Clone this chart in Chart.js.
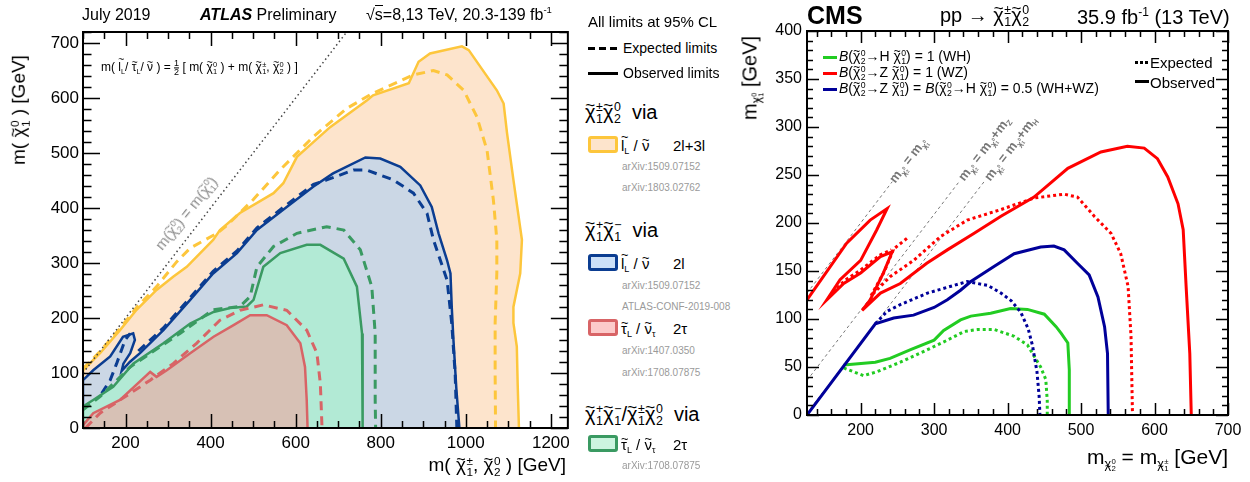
<!DOCTYPE html>
<html>
<head>
<meta charset="utf-8">
<script src="https://cdn.jsdelivr.net/npm/chart.js@4.4.1/dist/chart.umd.min.js"></script>
<style>
body{margin:0;width:1250px;height:482px;position:relative;background:#fff;font-family:"Liberation Sans",Arial,sans-serif;color:#000;overflow:hidden}
canvas{position:absolute;top:0}
.t{position:absolute;white-space:nowrap;line-height:1;transform:translateY(-50%)}
.ss{display:inline-flex;flex-direction:column;font-size:0.62em;line-height:0.95;vertical-align:middle;margin-left:0.04em;text-align:left}
sub{font-size:0.6em;vertical-align:-0.35em;line-height:0}
sup{font-size:0.6em;vertical-align:0.7em;line-height:0}
.tl{position:relative;display:inline-block}
.tl::after{content:"~";position:absolute;left:0;width:100%;text-align:center;top:-0.28em;font-size:0.85em;line-height:1}
.tl.hi::after{top:-0.56em}
.grey{color:#9a9a9a;font-size:10px}
.sw{position:absolute;box-sizing:border-box;width:30px;height:17px;border-radius:3px;border:3px solid}
.fr{display:inline-flex;flex-direction:column;font-size:0.75em;line-height:0.9;vertical-align:middle;text-align:center}
.fr span:first-child{border-bottom:1px solid #000}
</style>
</head>
<body>
<canvas id="atlas" width="575" height="482" style="left:0"></canvas>
<canvas id="cms" width="490" height="482" style="left:760px"></canvas>

<!-- ATLAS cabecera -->
<div class="t" style="left:82px;top:15px;font-size:16px">July 2019</div>
<div class="t" style="left:200px;top:15px;font-size:16px"><b><i>ATLAS</i></b> Preliminary</div>
<div class="t" style="left:366px;top:15px;font-size:16px">√<span style="border-top:1px solid #000">s</span>=8,13 TeV, 20.3-139 fb<sup>-1</sup></div>
<div class="t" style="left:101px;top:68px;font-size:12px">m( <span class="tl hi">l</span><sub>L</sub>/ <span class="tl">τ</span><sub>L</sub>/ <span class="tl">ν</span> ) = <span class="fr"><span>1</span><span>2</span></span> [ m( <span class="tl">χ</span><span class="ss"><span>0</span><span>1</span></span> ) + m( <span class="tl">χ</span><span class="ss"><span>±</span><span>1</span></span>,  <span class="tl">χ</span><span class="ss"><span>0</span><span>2</span></span> ) ]</div>
<div class="t" style="left:187px;top:214px;font-size:15px;color:#8a8a8a;transform:translate(-50%,-50%) rotate(-51deg)">m(<span class="tl">χ</span><span class="ss"><span>0</span><span>2</span></span>) = m(<span class="tl">χ</span><span class="ss"><span>0</span><span>1</span></span>)</div>
<div class="t" style="left:20px;top:110px;font-size:19px;transform:translate(-50%,-50%) rotate(-90deg)">m( <span class="tl">χ</span><span class="ss"><span>0</span><span>1</span></span> ) [GeV]</div>
<div class="t" style="right:684px;top:466px;font-size:19px">m( <span class="tl">χ</span><span class="ss"><span>±</span><span>1</span></span>, <span class="tl">χ</span><span class="ss"><span>0</span><span>2</span></span> ) [GeV]</div>

<!-- ATLAS leyenda -->
<div class="t" style="left:588px;top:21px;font-size:15px">All limits at 95% CL</div>
<div style="position:absolute;left:588px;top:47px;width:30px;height:3px;background:repeating-linear-gradient(90deg,#000 0 7px,transparent 7px 11px)"></div>
<div class="t" style="left:623px;top:48px;font-size:14px">Expected limits</div>
<div style="position:absolute;left:588px;top:72px;width:30px;height:3px;background:#000"></div>
<div class="t" style="left:623px;top:73px;font-size:14px">Observed limits</div>

<div class="t" style="left:585px;top:114px;font-size:20px"><span class="tl">χ</span><span class="ss"><span>±</span><span>1</span></span><span class="tl">χ</span><span class="ss"><span>0</span><span>2</span></span>&nbsp; via</div>
<div class="sw" style="left:588px;top:136px;background:#fde4cc;border-color:#fdc63c"></div>
<div class="t" style="left:621px;top:145px;font-size:15px"><span class="tl hi">l</span><sub>L</sub> / <span class="tl">ν</span></div>
<div class="t" style="left:673px;top:145px;font-size:15px">2l+3l</div>
<div class="t grey" style="left:622px;top:167px">arXiv:1509.07152</div>
<div class="t grey" style="left:622px;top:188px">arXiv:1803.02762</div>

<div class="t" style="left:585px;top:232px;font-size:20px"><span class="tl">χ</span><span class="ss"><span>+</span><span>1</span></span><span class="tl">χ</span><span class="ss"><span>−</span><span>1</span></span>&nbsp; via</div>
<div class="sw" style="left:588px;top:254px;background:#cce0f8;border-color:#0b3d91"></div>
<div class="t" style="left:621px;top:263px;font-size:15px"><span class="tl hi">l</span><sub>L</sub> / <span class="tl">ν</span></div>
<div class="t" style="left:673px;top:263px;font-size:15px">2l</div>
<div class="t grey" style="left:622px;top:286px">arXiv:1509.07152</div>
<div class="t grey" style="left:622px;top:307px">ATLAS-CONF-2019-008</div>
<div class="sw" style="left:588px;top:319px;background:#fccaca;border-color:#d86466"></div>
<div class="t" style="left:621px;top:328px;font-size:15px"><span class="tl">τ</span><sub>L</sub> / <span class="tl">ν</span><sub>τ</sub></div>
<div class="t" style="left:673px;top:328px;font-size:15px">2τ</div>
<div class="t grey" style="left:622px;top:351px">arXiv:1407.0350</div>
<div class="t grey" style="left:622px;top:373px">arXiv:1708.07875</div>

<div class="t" style="left:585px;top:416px;font-size:20px"><span class="tl">χ</span><span class="ss"><span>+</span><span>1</span></span><span class="tl">χ</span><span class="ss"><span>−</span><span>1</span></span>/<span class="tl">χ</span><span class="ss"><span>±</span><span>1</span></span><span class="tl">χ</span><span class="ss"><span>0</span><span>2</span></span>&nbsp; via</div>
<div class="sw" style="left:588px;top:435px;background:#ccf5e0;border-color:#3a9a62"></div>
<div class="t" style="left:621px;top:444px;font-size:15px"><span class="tl">τ</span><sub>L</sub> / <span class="tl">ν</span><sub>τ</sub></div>
<div class="t" style="left:673px;top:444px;font-size:15px">2τ</div>
<div class="t grey" style="left:622px;top:466px">arXiv:1708.07875</div>

<!-- CMS cabecera -->
<div class="t" style="left:807px;top:15px;font-size:25px;font-weight:bold">CMS</div>
<div class="t" style="left:940px;top:17px;font-size:20px">pp → <span class="tl">χ</span><span class="ss"><span>±</span><span>1</span></span><span class="tl">χ</span><span class="ss"><span>0</span><span>2</span></span></div>
<div class="t" style="left:1077px;top:17px;font-size:20px">35.9 fb<sup>-1</sup> (13 TeV)</div>

<!-- CMS leyenda -->
<div style="position:absolute;left:823px;top:56px;width:14px;height:3px;background:#22cc22"></div>
<div class="t" style="left:839px;top:57px;font-size:14px"><i>B</i>(<span class="tl">χ</span><span class="ss"><span>0</span><span>2</span></span>→H <span class="tl">χ</span><span class="ss"><span>0</span><span>1</span></span>) = 1 (WH)</div>
<div style="position:absolute;left:823px;top:72px;width:14px;height:3px;background:#ff0000"></div>
<div class="t" style="left:839px;top:73px;font-size:14px"><i>B</i>(<span class="tl">χ</span><span class="ss"><span>0</span><span>2</span></span>→Z <span class="tl">χ</span><span class="ss"><span>0</span><span>1</span></span>) = 1 (WZ)</div>
<div style="position:absolute;left:823px;top:88px;width:14px;height:3px;background:#000099"></div>
<div class="t" style="left:839px;top:89px;font-size:14px"><i>B</i>(<span class="tl">χ</span><span class="ss"><span>0</span><span>2</span></span>→Z <span class="tl">χ</span><span class="ss"><span>0</span><span>1</span></span>) = <i>B</i>(<span class="tl">χ</span><span class="ss"><span>0</span><span>2</span></span>→H <span class="tl">χ</span><span class="ss"><span>0</span><span>1</span></span>) = 0.5 (WH+WZ)</div>
<div style="position:absolute;left:1135px;top:61px;width:14px;height:3px;background:repeating-linear-gradient(90deg,#000 0 3px,transparent 3px 5px)"></div>
<div class="t" style="left:1150px;top:62px;font-size:15px">Expected</div>
<div style="position:absolute;left:1135px;top:80px;width:14px;height:3px;background:#000"></div>
<div class="t" style="left:1150px;top:82px;font-size:15px">Observed</div>

<div class="t" style="left:752px;top:78px;font-size:20px;transform:translate(-50%,-50%) rotate(-90deg)">m<sub><span class="tl">χ</span><span class="ss"><span>0</span><span>1</span></span></sub> [GeV]</div>
<div class="t" style="right:22px;top:459px;font-size:21px">m<sub><span class="tl">χ</span><span class="ss"><span>0</span><span>2</span></span></sub> = m<sub><span class="tl">χ</span><span class="ss"><span>±</span><span>1</span></span></sub> [GeV]</div>

<div class="t" style="left:893px;top:182px;font-size:13px;font-weight:bold;color:#777;transform-origin:0 50%;transform:translateY(-50%) rotate(-52.6deg)">m<sub><span class="tl">χ</span><span class="ss"><span>0</span><span>2</span></span></sub> = m<sub><span class="tl">χ</span><span class="ss"><span>0</span><span>1</span></span></sub></div>
<div class="t" style="left:962px;top:180px;font-size:13px;font-weight:bold;color:#777;transform-origin:0 50%;transform:translateY(-50%) rotate(-52.6deg)">m<sub><span class="tl">χ</span><span class="ss"><span>0</span><span>2</span></span></sub> = m<sub><span class="tl">χ</span><span class="ss"><span>0</span><span>1</span></span></sub>+m<sub>Z</sub></div>
<div class="t" style="left:988px;top:180px;font-size:13px;font-weight:bold;color:#777;transform-origin:0 50%;transform:translateY(-50%) rotate(-52.6deg)">m<sub><span class="tl">χ</span><span class="ss"><span>0</span><span>2</span></span></sub> = m<sub><span class="tl">χ</span><span class="ss"><span>0</span><span>1</span></span></sub>+m<sub>H</sub></div>

<script>
// ---- ATLAS: contornos [m(chi1+-,chi20), m(chi10)] en GeV ----
const atlasXTicks = [200, 400, 600, 800, 1000, 1200];
const atlasYTicks = [0, 100, 200, 300, 400, 500, 600, 700];

const slepObs = [[100,0],[100,105],[140,136],[187,178],[226,215],[273,251],[312,275],[344,293],[406,342],[422,360],[469,391],[548,427],[571,445],[603,493],[681,547],[768,596],[782,605],[866,627],[889,666],[916,681],[991,694],[1007,687],[1034,657],[1073,614],[1089,590],[1097,536],[1112,451],[1132,342],[1128,281],[1112,220],[1112,191],[1120,148],[1122,80],[1125,0]];
const slepExp = [[100,108],[140,139],[187,181],[226,219],[273,257],[320,302],[352,327],[415,354],[438,368],[500,415],[563,469],[642,530],[720,581],[780,608],[877,642],[924,650],[956,642],[995,614],[1026,566],[1050,505],[1065,414],[1073,342],[1073,282],[1069,191],[1069,100],[1070,0]];

const c1c1Obs = [[100,0],[100,87],[124,105],[164,130],[194,166],[218,172],[222,160],[211,136],[195,117],[191,104],[210,120],[234,136],[289,178],[352,233],[406,281],[462,318],[509,360],[579,402],[642,439],[688,463],[764,492],[799,490],[846,475],[893,441],[920,402],[936,354],[956,305],[964,281],[967,220],[971,160],[978,69],[985,0]];
const c1c1Exp = [[230,140],[289,182],[352,237],[406,285],[462,322],[509,364],[579,406],[642,443],[673,451],[736,469],[767,469],[830,451],[877,427],[909,390],[924,342],[956,269],[967,190],[975,99],[979,0]];
const c1c1ExpIsland = [[144,63],[164,87],[179,117],[199,160],[211,172]];

const stauComboObs = [[100,0],[100,39],[124,51],[171,75],[218,117],[289,154],[352,190],[407,211],[446,218],[485,221],[501,233],[524,293],[564,318],[626,333],[658,333],[713,308],[744,257],[756,172],[757,80],[758,0]];
const stauComboExp = [[100,33],[140,57],[211,111],[328,172],[406,215],[469,221],[493,239],[509,293],[548,330],[603,354],[673,366],[713,360],[752,324],[779,257],[787,172],[787,51],[788,0]];

const stauObs = [[100,0],[100,5],[124,27],[187,51],[258,102],[273,93],[297,105],[352,136],[407,166],[454,187],[493,205],[532,205],[579,187],[611,154],[622,111],[626,51],[628,0]];
const stauExp = [[106,0],[140,27],[211,63],[258,87],[312,117],[367,154],[422,196],[469,214],[524,224],[579,214],[626,178],[650,136],[658,81],[662,0]];

const atlasDiag = [[100,100],[720,720]];

// ---- CMS: contornos [m(chi20)=m(chi1+-), m(chi10)] en GeV ----
const cmsXTicks = [200, 300, 400, 500, 600, 700];
const cmsYTicks = [0, 50, 100, 150, 200, 250, 300, 350, 400];

const wzObs = [[127,120],[181,179],[213,203],[236,215],[222,193],[200,161],[172,141],[154,120],[177,137],[200,148],[227,165],[243,170],[231,148],[213,120],[202,109],[227,127],[254,137],[290,158],[318,172],[354,189],[391,207],[436,227],[482,257],[527,274],[563,280],[586,278],[604,267],[618,248],[632,220],[639,193],[643,134],[648,64],[650,0]];
const wzExp = [[263,184],[245,173],[232,149],[214,124],[240,144],[272,161],[309,186],[345,203],[391,214],[436,226],[477,230],[495,227],[518,207],[541,189],[554,168],[564,134],[568,82],[570,0]];
const wzExpUpper = [[157,123],[178,140],[200,151],[227,167],[242,172]];

const whzObs = [[127,0],[220,95],[245,101],[272,104],[300,112],[318,120],[336,130],[350,139],[382,155],[409,168],[445,175],[463,176],[477,172],[495,158],[511,146],[523,123],[532,92],[536,64],[537,0]];
const whzExp = [[220,95],[236,108],[254,115],[291,127],[327,135],[345,139],[373,135],[391,127],[405,119],[418,107],[428,90],[434,72],[440,45],[443,19],[444,0]];

const whObs = [[177,52],[220,55],[240,59],[268,68],[300,78],[313,88],[336,99],[350,103],[377,106],[404,111],[427,110],[450,105],[466,92],[473,85],[482,75],[484,47],[484,0]];
const whExp = [[177,49],[204,41],[222,45],[254,55],[291,68],[318,78],[341,87],[359,89],[382,89],[409,82],[427,73],[445,50],[452,37],[454,15],[454,0]];

const diagEq = [[127,127],[243,243]];
const diagZ = [[127,36],[335,244]];
const diagH = [[127,2],[370,245]];

Chart.defaults.font.family = '"Liberation Sans", Arial, sans-serif';
Chart.defaults.color = '#000';

const pts = arr => arr.map(([x, y]) => ({x, y}));

// Marco y marcas hacia dentro (estilo ROOT), en los cuatro lados
const frameTicks = {
    id: 'frameTicks',
    afterDatasetsDraw(chart, args, o) {
        const {ctx, chartArea: a} = chart;
        const sx = chart.scales.x, sy = chart.scales.y;
        const isMajor = (v, m) => Math.abs(v / m - Math.round(v / m)) < 1e-6;
        ctx.save();
        ctx.strokeStyle = '#000';
        ctx.lineWidth = o.tickWidth;
        ctx.beginPath();
        for (let v = Math.ceil(sx.min / o.xMinor) * o.xMinor; v <= sx.max + 1e-6; v += o.xMinor) {
            const p = Math.round(sx.getPixelForValue(v)) + 0.5;
            const len = isMajor(v, o.xMajor) ? o.xLen : o.xLen / 2;
            ctx.moveTo(p, a.bottom); ctx.lineTo(p, a.bottom - len);
            ctx.moveTo(p, a.top); ctx.lineTo(p, a.top + len);
        }
        for (let v = Math.ceil(sy.min / o.yMinor) * o.yMinor; v <= sy.max + 1e-6; v += o.yMinor) {
            const p = Math.round(sy.getPixelForValue(v)) + 0.5;
            const len = isMajor(v, o.yMajor) ? o.yLen : o.yLen / 2;
            ctx.moveTo(a.left, p); ctx.lineTo(a.left + len, p);
            ctx.moveTo(a.right, p); ctx.lineTo(a.right - len, p);
        }
        ctx.stroke();
        ctx.lineWidth = o.frameWidth;
        ctx.strokeRect(a.left, a.top, a.width, a.height);
        ctx.restore();
    }
};

const region = (data, line, fillCol, ord) => ({
    data: pts(data), showLine: true, pointRadius: 0, borderColor: line, borderWidth: 2.5,
    backgroundColor: fillCol, fill: 'shape', order: ord
});
const dashed = (data, line, ord) => ({
    data: pts(data), showLine: true, pointRadius: 0, borderColor: line, borderWidth: 3,
    borderDash: [9, 6], fill: false, order: ord
});
const plainTick = v => String(v);

new Chart(document.getElementById('atlas'), {
    type: 'scatter',
    data: {
        datasets: [
            region(slepObs, '#fdc63c', '#fde4cc', 100),
            dashed(slepExp, '#fdc63c', 99),
            region(c1c1Obs, '#0b3d91', '#cbd7e5', 98),
            dashed(c1c1Exp, '#0b3d91', 97),
            dashed(c1c1ExpIsland, '#0b3d91', 96),
            region(stauComboObs, '#3a9a62', '#b2ead5', 95),
            dashed(stauComboExp, '#3a9a62', 94),
            region(stauObs, '#d86466', '#d7c1b5', 93),
            dashed(stauExp, '#d86466', 92),
            {data: pts(atlasDiag), showLine: true, pointRadius: 0, borderColor: '#444',
             borderWidth: 1.5, borderDash: [1.5, 3], fill: false, order: 1}
        ]
    },
    options: {
        responsive: false,
        animation: false,
        layout: {padding: {top: 32, right: 7, left: 0, bottom: 0}},
        plugins: {
            legend: {display: false},
            tooltip: {enabled: false},
            frameTicks: {xMinor: 50, xMajor: 200, xLen: 14, yMinor: 20, yMajor: 100, yLen: 17,
                         tickWidth: 1.5, frameWidth: 2}
        },
        scales: {
            x: {
                type: 'linear', min: 100, max: 1240,
                grid: {display: false, drawTicks: false}, border: {display: false},
                afterBuildTicks: s => { s.ticks = atlasXTicks.map(v => ({value: v})); },
                afterFit: s => { s.height = 54; },
                ticks: {font: {size: 17}, padding: 5, maxRotation: 0, autoSkip: false, callback: plainTick}
            },
            y: {
                type: 'linear', min: 0, max: 720,
                grid: {display: false, drawTicks: false}, border: {display: false},
                afterBuildTicks: s => { s.ticks = atlasYTicks.map(v => ({value: v})); },
                afterFit: s => { s.width = 83; },
                ticks: {font: {size: 17}, padding: 4, autoSkip: false, callback: plainTick}
            }
        }
    },
    plugins: [frameTicks]
});

const cmsLine = (data, col, dotted, ord) => ({
    data: pts(data), showLine: true, pointRadius: 0, borderColor: col, borderWidth: 3,
    borderDash: dotted ? [3, 3] : [], fill: false, order: ord
});
const guide = data => ({
    data: pts(data), showLine: true, pointRadius: 0, borderColor: '#777',
    borderWidth: 1, borderDash: [3, 3], fill: false, order: 50
});

new Chart(document.getElementById('cms'), {
    type: 'scatter',
    data: {
        datasets: [
            guide(diagEq), guide(diagZ), guide(diagH),
            cmsLine(whExp, '#22cc22', true, 10),
            cmsLine(whObs, '#22cc22', false, 9),
            cmsLine(whzExp, '#000099', true, 8),
            cmsLine(whzObs, '#000099', false, 7),
            cmsLine(wzExp, '#ff0000', true, 6),
            cmsLine(wzExpUpper, '#ff0000', true, 5),
            cmsLine(wzObs, '#ff0000', false, 4)
        ]
    },
    options: {
        responsive: false,
        animation: false,
        layout: {padding: {top: 31, right: 22, left: 0, bottom: 0}},
        plugins: {
            legend: {display: false},
            tooltip: {enabled: false},
            frameTicks: {xMinor: 20, xMajor: 100, xLen: 12, yMinor: 10, yMajor: 50, yLen: 12,
                         tickWidth: 1.5, frameWidth: 2}
        },
        scales: {
            x: {
                type: 'linear', min: 127, max: 700,
                grid: {display: false, drawTicks: false}, border: {display: false},
                afterBuildTicks: s => { s.ticks = cmsXTicks.map(v => ({value: v})); },
                afterFit: s => { s.height = 67; },
                ticks: {font: {size: 16}, padding: 6, maxRotation: 0, autoSkip: false, callback: plainTick}
            },
            y: {
                type: 'linear', min: 0, max: 400,
                grid: {display: false, drawTicks: false}, border: {display: false},
                afterBuildTicks: s => { s.ticks = cmsYTicks.map(v => ({value: v})); },
                afterFit: s => { s.width = 47; },
                ticks: {font: {size: 16}, padding: 5, autoSkip: false, callback: plainTick}
            }
        }
    },
    plugins: [frameTicks]
});
</script>
</body>
</html>
